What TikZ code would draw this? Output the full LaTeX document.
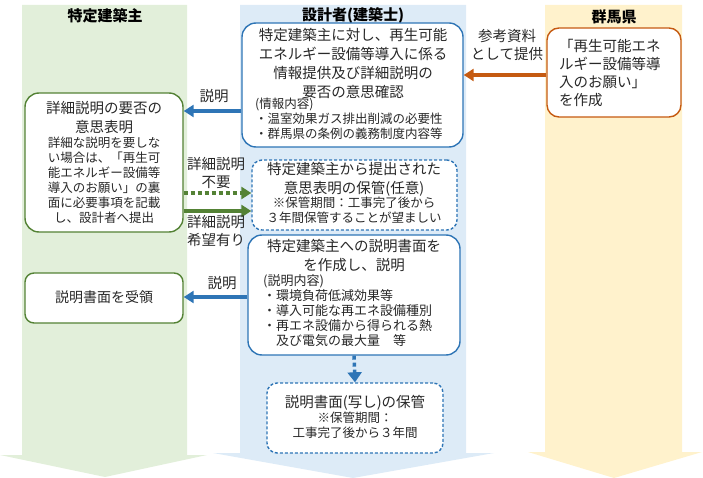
\documentclass[tikz,border=0pt]{standalone}
\usepackage{fontspec}
\setmainfont{Noto Sans CJK JP}
\usetikzlibrary{arrows.meta}
\definecolor{gcol}{RGB}{226,239,218}
\definecolor{bcol}{RGB}{221,235,247}
\definecolor{ycol}{RGB}{255,242,204}
\definecolor{gline}{RGB}{84,130,53}
\definecolor{bline}{RGB}{46,117,182}
\definecolor{oline}{RGB}{197,90,17}
\definecolor{tcol}{RGB}{40,40,40}
\tikzset{
  box/.style={draw, fill=white, line width=1.4pt, rounded corners=14pt, inner sep=0pt},
  gbox/.style={box, draw=gline},
  bbox/.style={box, draw=bline},
  obox/.style={box, draw=oline},
  dbox/.style={box, draw=bline, dash pattern=on 3pt off 2pt},
  big/.style={font=\fontsize{14.5}{19}\selectfont, text=tcol, inner sep=0pt, align=center},
  small/.style={font=\fontsize{12.5}{15}\selectfont, text=tcol, inner sep=0pt},
  lab/.style={font=\fontsize{14.5}{18}\selectfont, text=tcol, inner sep=0pt, align=center},
  head/.style={font=\bfseries\fontsize{15}{18}\selectfont, text=black, inner sep=0pt},
  barrow/.style={draw=bline, line width=3.5pt, -{Triangle[length=10pt,width=12pt]}},
  garrow/.style={draw=gline, line width=4pt, -{Triangle[length=10pt,width=12pt]}},
  oarrow/.style={draw=oline, line width=3.5pt, -{Triangle[length=10pt,width=12pt]}},
}
\begin{document}
\begin{tikzpicture}[x=1pt,y=-1pt]
\useasboundingbox (0,0) rectangle (703,478);
% columns
\fill[gcol] (22,5) -- (187,5) -- (187,455) -- (207,455) -- (105,477) -- (0,455) -- (22,455) -- cycle;
\fill[bcol] (240,5) -- (466,5) -- (466,453) -- (494,453) -- (353,478) -- (213,453) -- (240,453) -- cycle;
\fill[ycol] (545,5) -- (682,5) -- (682,452) -- (702,452) -- (614,478) -- (528,452) -- (545,452) -- cycle;
\node[head] (hL) at (105,16) {特定建築主};
\node[head] (hM) at (353,16) {設計者(建築士)};
\node[head] (hR) at (614,17) {群馬県};
% boxes
\node[bbox, minimum width=221pt, minimum height=124pt] (T1) at (352.5,85) {};
\node[obox, minimum width=134pt, minimum height=89pt, rounded corners=12pt] (R) at (614,72.5) {};
\node[gbox, minimum width=158pt, minimum height=139pt] (L1) at (104,162.5) {};
\node[dbox, minimum width=205pt, minimum height=70pt, rounded corners=10pt] (T2) at (354.5,195) {};
\node[bbox, minimum width=212pt, minimum height=120pt] (T3) at (354,295) {};
\node[gbox, minimum width=158pt, minimum height=50pt, rounded corners=9pt] (L2) at (104,298) {};
\node[dbox, minimum width=176pt, minimum height=70pt, rounded corners=10pt] (T4) at (355,418) {};
% texts T1
\node[big] (t1a) at (353,63.5) {特定建築主に対し、再生可能\\エネルギー設備等導入に係る\\情報提供及び詳細説明の\\要否の意思確認};
\node[small, anchor=west, align=left] (t1b) at (255,119) {(情報内容)\\・温室効果ガス排出削減の必要性\\・群馬県の条例の義務制度内容等};
% texts R
\node[big, anchor=west, align=left, font=\fontsize{14.5}{18}\selectfont] (rt) at (559,73) {「再生可能エネ\\ルギー設備等導\\入のお願い」\\を作成};
% texts L1
\node[big] (l1a) at (104,117.5) {詳細説明の要否の\\意思表明};
\node[small, align=center] (l1b) at (104,180.5) {詳細な説明を要しな\\い場合は、「再生可\\能エネルギー設備等\\導入のお願い」の裏\\面に必要事項を記載\\し、設計者へ提出};
% texts T2
\node[big] (t2a) at (354,179) {特定建築主から提出された\\意思表明の保管(任意)};
\node[small, align=center] (t2b) at (354,210.5) {※保管期間：工事完了後から\\３年間保管することが望ましい};
% texts T3
\node[big] (t3a) at (354,256) {特定建築主への説明書面を\\を作成し、説明};
\node[small, anchor=west, align=left, font=\fontsize{13}{15.2}\selectfont] (t3b) at (263,310.5) {(説明内容)\\・環境負荷低減効果等\\・導入可能な再エネ設備種別\\・再エネ設備から得られる熱\\\hspace*{13pt}及び電気の最大量　等};
% texts L2
\node[big, font=\fontsize{14}{18}\selectfont] (l2) at (104,297) {説明書面を受領};
% texts T4
\node[big] (t4a) at (355,403) {説明書面(写し)の保管};
\node[small, align=center] (t4b) at (355,425.5) {※保管期間：\\工事完了後から３年間};
% arrows
\draw[oarrow] (R.west |- 0,75) -- (T1.east |- 0,75);
\node[lab] (lo) at (507,44.5) {参考資料\\として提供};
\draw[barrow] (T1.west |- 0,111) -- (L1.east |- 0,111);
\node[lab] (lb1) at (214,96) {説明};
\draw[garrow, line width=3.5pt, dash pattern=on 4pt off 3pt] (L1.east |- 0,193) -- (T2.west |- 0,193);
\draw[garrow] (L1.east |- 0,211) -- (T2.west |- 0,211);
\node[lab] (lg1) at (216,173) {詳細説明\\不要};
\node[lab] (lg2) at (216,231) {詳細説明\\希望有り};
\draw[barrow] (T3.west |- 0,297) -- (L2.east |- 0,297);
\node[lab] (lb2) at (222,283) {説明};
\draw[draw=bline, line width=3.5pt, dash pattern=on 4pt off 3pt, -{Triangle[length=10pt,width=14pt]}] (T3.south) -- (T4.north);
\end{tikzpicture}
\end{document}
